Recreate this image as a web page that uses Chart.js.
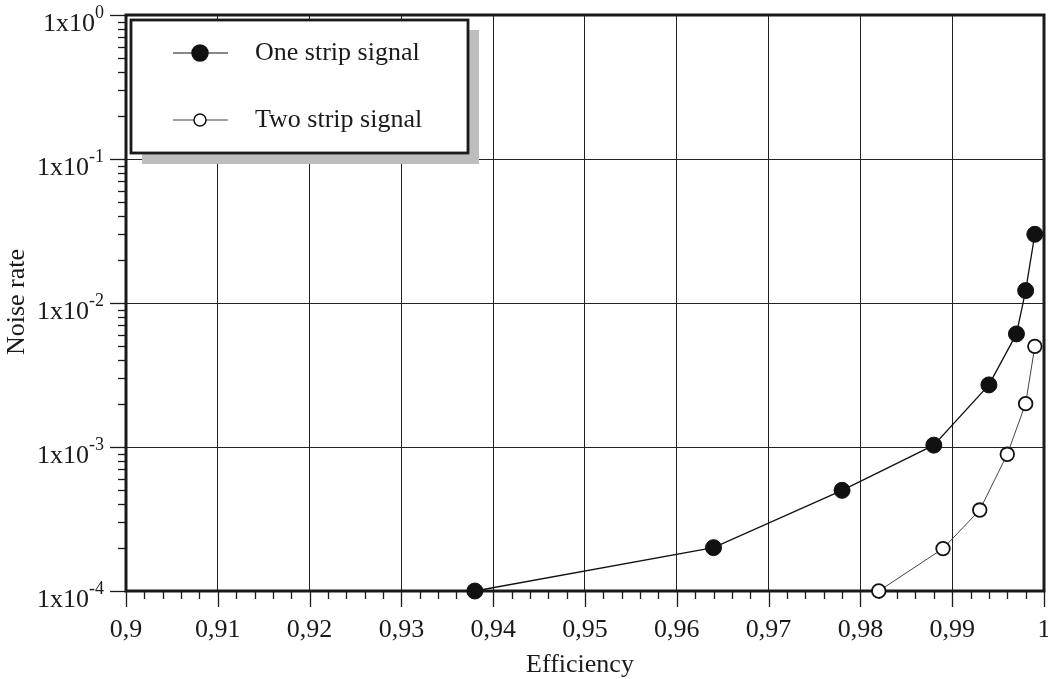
<!DOCTYPE html>
<html>
<head>
<meta charset="utf-8">
<script src="https://cdn.jsdelivr.net/npm/chart.js@4.4.1/dist/chart.umd.min.js"></script>
<style>
  html, body { margin: 0; padding: 0; background: #fff; overflow: hidden; }
  #wrap { width: 1048px; height: 679px; position: relative; }
</style>
</head>
<body>
<div id="wrap"><canvas id="c"></canvas></div>
<script>
// ---- data ----
const xTickValues = [0.9, 0.91, 0.92, 0.93, 0.94, 0.95, 0.96, 0.97, 0.98, 0.99, 1.0];
const xTickLabels = ['0,9', '0,91', '0,92', '0,93', '0,94', '0,95', '0,96', '0,97', '0,98', '0,99', '1'];
const yTickValues = [1e-4, 1e-3, 1e-2, 1e-1, 1];
const yTickBase = '1x10';
const yTickExponents = ['-4', '-3', '-2', '-1', '0'];

const seriesLabels = ['One strip signal', 'Two strip signal'];
const oneStripEff   = [0.938, 0.964, 0.978, 0.988, 0.994, 0.997, 0.998, 0.999];
const oneStripNoise = [1e-4, 2e-4, 5e-4, 1.03e-3, 2.7e-3, 6.1e-3, 1.22e-2, 3.0e-2];
const twoStripEff   = [0.982, 0.989, 0.993, 0.996, 0.998, 0.999];
const twoStripNoise = [1e-4, 1.97e-4, 3.65e-4, 8.9e-4, 2.0e-3, 5.0e-3];

const xTitle = 'Efficiency';
const yTitle = 'Noise rate';

const FONT = '"Liberation Serif", "Times New Roman", serif';
const INK = '#1a1a1a';

const toPts = (xs, ys) => xs.map((x, i) => ({ x: x, y: ys[i] }));

const decorPlugin = {
  id: 'decor',
  beforeDatasetsDraw(chart) {
    const ctx = chart.ctx, a = chart.chartArea;
    const xs = chart.scales.x, ys = chart.scales.y;
    ctx.save();
    ctx.strokeStyle = INK;
    ctx.lineWidth = 3;
    ctx.strokeRect(a.left, a.top, a.right - a.left, a.bottom - a.top);
    ctx.lineWidth = 1.3;
    for (let i = 0; i <= 50; i++) {
      const v = 0.9 + i * 0.002;
      const px = Math.round(xs.getPixelForValue(v)) + 0.5;
      const len = (i % 5 === 0) ? 16 : 8;
      ctx.beginPath();
      ctx.moveTo(px, a.bottom);
      ctx.lineTo(px, a.bottom + len);
      ctx.stroke();
    }
    for (let n = -4; n <= 0; n++) {
      for (let k = 1; k <= 9; k++) {
        const v = k * Math.pow(10, n);
        if (v > 1.0000001) break;
        const py = Math.round(ys.getPixelForValue(v)) + 0.5;
        const len = (k === 1) ? 16 : 8;
        ctx.beginPath();
        ctx.moveTo(a.left - len, py);
        ctx.lineTo(a.left, py);
        ctx.stroke();
      }
    }
    ctx.fillStyle = INK;
    ctx.font = '26px ' + FONT;
    ctx.textAlign = 'center';
    ctx.textBaseline = 'alphabetic';
    xTickValues.forEach((v, i) => {
      ctx.fillText(xTickLabels[i], xs.getPixelForValue(v), 637);
    });
    yTickValues.forEach((v, i) => {
      const py = ys.getPixelForValue(v);
      ctx.font = '18px ' + FONT;
      ctx.textAlign = 'right';
      const sw = ctx.measureText(yTickExponents[i]).width;
      ctx.fillText(yTickExponents[i], 104, py + 3);
      ctx.font = '26px ' + FONT;
      ctx.fillText(yTickBase, 104 - sw, py + 16);
    });
    ctx.font = '26px ' + FONT;
    ctx.textAlign = 'center';
    ctx.fillText(xTitle, 580, 672);
    ctx.save();
    ctx.translate(24, 302);
    ctx.rotate(-Math.PI / 2);
    ctx.fillText(yTitle, 0, 0);
    ctx.restore();
    ctx.restore();
  },
  afterDraw(chart) {
    const ctx = chart.ctx;
    ctx.save();
    ctx.fillStyle = '#bdbdbd';
    ctx.fillRect(142, 30, 337, 134);
    ctx.fillStyle = '#fff';
    ctx.fillRect(131, 20, 337, 133);
    ctx.strokeStyle = INK;
    ctx.lineWidth = 2.8;
    ctx.strokeRect(131, 20, 337, 133);
    const rows = [53, 120];
    chart.data.datasets.forEach((ds, i) => {
      const y = rows[i];
      ctx.strokeStyle = ds.borderColor;
      ctx.lineWidth = 1.2;
      ctx.beginPath();
      ctx.moveTo(173, y);
      ctx.lineTo(228, y);
      ctx.stroke();
      ctx.beginPath();
      ctx.arc(200, y, i === 0 ? 8 : 6, 0, Math.PI * 2);
      ctx.fillStyle = ds.pointBackgroundColor;
      ctx.fill();
      ctx.strokeStyle = ds.pointBorderColor;
      ctx.lineWidth = 1.5;
      ctx.stroke();
      ctx.fillStyle = INK;
      ctx.font = '26px ' + FONT;
      ctx.textAlign = 'left';
      ctx.textBaseline = 'middle';
      ctx.fillText(ds.label, 255, y);
    });
    ctx.restore();
  }
};

new Chart(document.getElementById('c'), {
  type: 'line',
  data: {
    datasets: [
      {
        label: seriesLabels[0],
        data: toPts(oneStripEff, oneStripNoise),
        borderColor: '#111',
        borderWidth: 1.3,
        pointRadius: 8,
        pointBackgroundColor: '#111',
        pointBorderColor: '#111',
        pointBorderWidth: 1,
        tension: 0,
        clip: false
      },
      {
        label: seriesLabels[1],
        data: toPts(twoStripEff, twoStripNoise),
        borderColor: '#444',
        borderWidth: 1,
        pointRadius: 6.8,
        pointBackgroundColor: '#fff',
        pointBorderColor: '#111',
        pointBorderWidth: 1.8,
        tension: 0,
        clip: false
      }
    ]
  },
  options: {
    responsive: true,
    maintainAspectRatio: false,
    animation: false,
    layout: { autoPadding: false, padding: { left: 0, right: 4, top: 15, bottom: 0 } },
    plugins: { legend: { display: false }, tooltip: { enabled: false } },
    scales: {
      x: {
        type: 'linear',
        min: 0.9,
        max: 1.0,
        afterBuildTicks: s => { s.ticks = xTickValues.map(v => ({ value: v })); },
        afterFit: s => { s.height = 88; s.paddingLeft = 0; s.paddingRight = 0; },
        ticks: { display: false },
        grid: { color: '#222', lineWidth: 1, drawTicks: false },
        border: { display: false }
      },
      y: {
        type: 'logarithmic',
        min: 1e-4,
        max: 1,
        afterBuildTicks: s => { s.ticks = yTickValues.map(v => ({ value: v })); },
        afterFit: s => { s.width = 126; s.paddingTop = 0; s.paddingBottom = 0; },
        ticks: { display: false },
        grid: { color: '#222', lineWidth: 1, drawTicks: false },
        border: { display: false }
      }
    }
  },
  plugins: [decorPlugin]
});
</script>
</body>
</html>
